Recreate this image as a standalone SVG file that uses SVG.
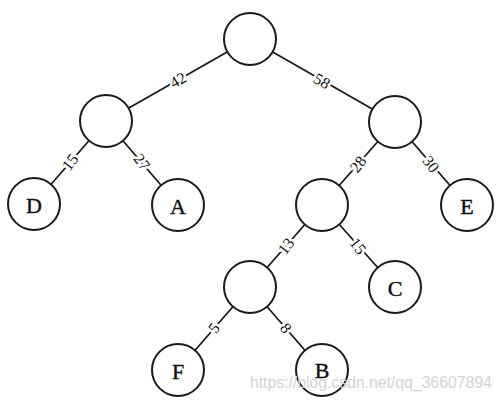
<svg xmlns="http://www.w3.org/2000/svg" width="502" height="401" viewBox="0 0 502 401">
<style>
.edge{stroke:#1a1a1a;stroke-width:1.8;fill:none}
.node circle{fill:#fff;stroke:#1a1a1a;stroke-width:2}
.node text{font-family:"Liberation Serif",serif;font-size:22px;fill:#111;text-anchor:middle;dominant-baseline:central;stroke:#111;stroke-width:0.4}
.lbl{font-family:"Liberation Serif",serif;font-size:16px;fill:#111;text-anchor:middle;dominant-baseline:central;stroke:#fff;stroke-width:5;paint-order:stroke;stroke-linejoin:round}
.wm{font-family:"Liberation Sans",Arial,sans-serif;font-size:16px;fill:#d4d4d4}
</style>
<rect width="502" height="401" fill="#fff"/>
<g id="connectors">
<line class="edge" x1="250" y1="39" x2="106" y2="121"/>
<line class="edge" x1="250" y1="39" x2="395" y2="122"/>
<line class="edge" x1="106" y1="121" x2="34" y2="204"/>
<line class="edge" x1="106" y1="121" x2="178" y2="205"/>
<line class="edge" x1="395" y1="122" x2="322" y2="205"/>
<line class="edge" x1="395" y1="122" x2="467" y2="205"/>
<line class="edge" x1="322" y1="205" x2="250" y2="287"/>
<line class="edge" x1="322" y1="205" x2="395" y2="287"/>
<line class="edge" x1="250" y1="287" x2="178" y2="370"/>
<line class="edge" x1="250" y1="287" x2="322" y2="370"/>
<text class="lbl" transform="translate(178,80) rotate(-30)">42</text>
<text class="lbl" transform="translate(322,81) rotate(30)">58</text>
<text class="lbl" transform="translate(70,162) rotate(-52)">15</text>
<text class="lbl" transform="translate(142,162) rotate(52)">27</text>
<text class="lbl" transform="translate(358,164) rotate(-52)">28</text>
<text class="lbl" transform="translate(431,164) rotate(52)">30</text>
<text class="lbl" transform="translate(286,246) rotate(-52)">13</text>
<text class="lbl" transform="translate(358,246) rotate(52)">15</text>
<text class="lbl" transform="translate(214,328) rotate(-52)">5</text>
<text class="lbl" transform="translate(286,328) rotate(52)">8</text>
</g>
<g id="root" class="node"><circle cx="250" cy="39" r="26"/></g>
<g id="n42" class="node"><circle cx="106" cy="121" r="26"/></g>
<g id="n58" class="node"><circle cx="395" cy="122" r="26"/></g>
<g id="D" class="node"><circle cx="34" cy="204" r="26"/><text x="34" y="205">D</text></g>
<g id="A" class="node"><circle cx="178" cy="205" r="26"/><text x="178" y="206">A</text></g>
<g id="n28" class="node"><circle cx="322" cy="205" r="26"/></g>
<g id="E" class="node"><circle cx="467" cy="205" r="26"/><text x="467" y="206">E</text></g>
<g id="n13" class="node"><circle cx="250" cy="287" r="26"/></g>
<g id="C" class="node"><circle cx="395" cy="287" r="26"/><text x="395" y="288">C</text></g>
<g id="F" class="node"><circle cx="178" cy="370" r="26"/><text x="178" y="371">F</text></g>
<g id="B" class="node"><circle cx="322" cy="370" r="26"/><text x="322" y="370">B</text></g>
<text class="wm" x="250" y="388" textLength="242">https://blog.csdn.net/qq_36607894</text>
</svg>
